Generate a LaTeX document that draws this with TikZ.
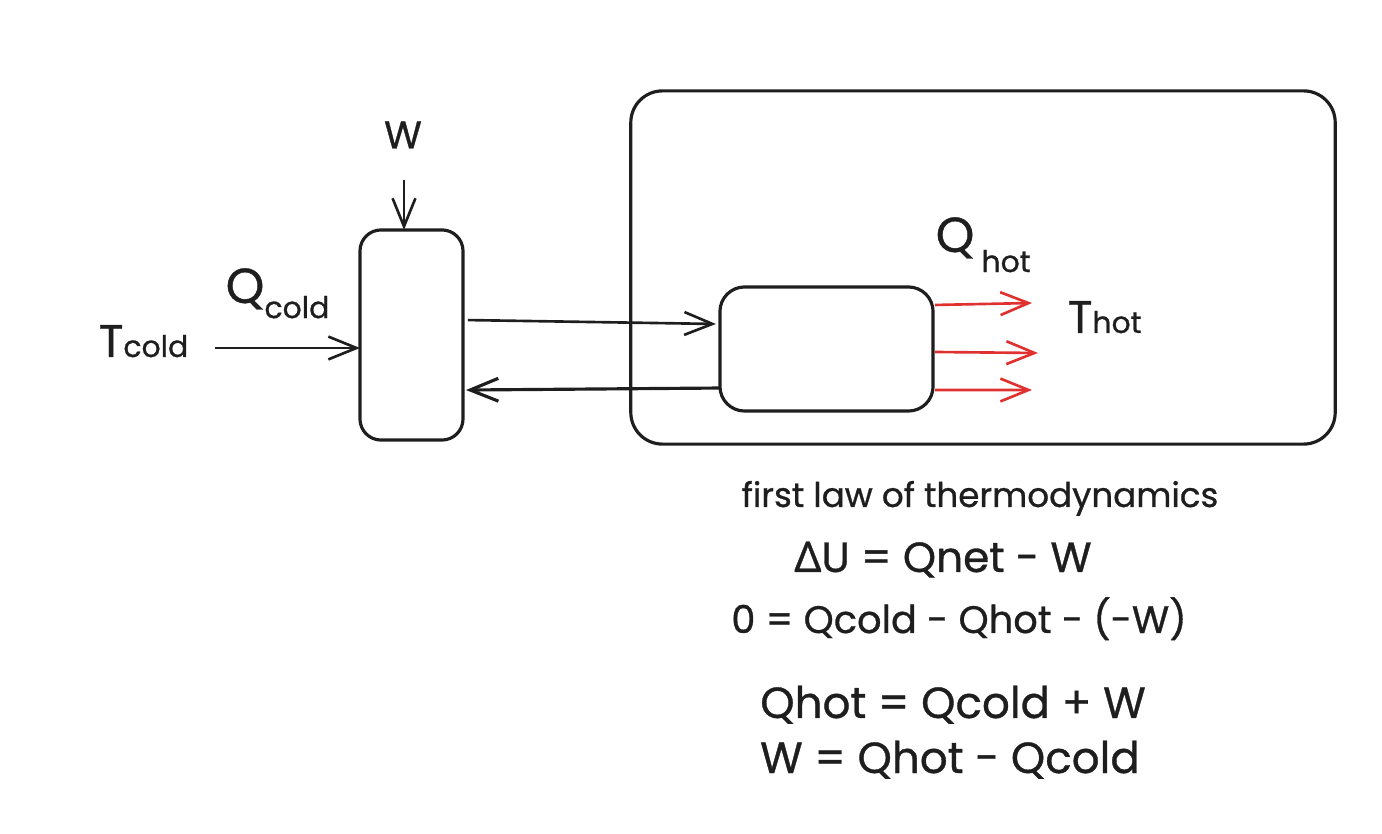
\documentclass[tikz,border=0pt]{standalone}
\usepackage{fontspec}
\setmainfont{Poppins}[FakeBold=0.8]
\newfontfamily\grkfont{Noto Sans}[FakeBold=0.8]
\usetikzlibrary{arrows.meta, positioning, calc}
\definecolor{inkblack}{RGB}{30, 30, 30}
\definecolor{heatred}{RGB}{224, 49, 49}

\begin{document}
\begin{tikzpicture}[x=0.01cm, y=-0.01cm,
  box/.style={draw=inkblack, line width=0.9pt, inner sep=0pt, outer sep=0pt},
  arr/.style={-{Straight Barb[length=8pt, width=6.5pt]}, line width=0.75pt, color=inkblack},
  hotarr/.style={arr, color=heatred},
  lbl/.style={inner sep=0pt, text=inkblack},
  eqn/.style={lbl, anchor=base, font=\fontsize{12}{14}\selectfont},
  bigeqn/.style={eqn, font=\fontsize{12.4}{15}\selectfont}
]
\useasboundingbox (0,0) rectangle (1382,834);

% boxes
\node[box, rounded corners=9pt, minimum width=7.04cm, minimum height=3.53cm] (sys) at (983,267.5) {};
\node[box, rounded corners=6pt, minimum width=1.03cm, minimum height=2.10cm] (pump) at (411.5,335) {};
\node[box, rounded corners=7pt, minimum width=2.13cm, minimum height=1.24cm] (cond) at (826.5,349) {};

% labels
\node[lbl, font=\fontsize{11}{13}\selectfont] (w) at (403,135) {W};
\node[lbl, anchor=base west, font=\fontsize{13}{15}\selectfont] (tcold) at (98,357)
      {T{\fontsize{8.5}{10}\selectfont cold}};
\node[lbl, anchor=base west, font=\fontsize{14}{16}\selectfont] (qcold) at (225,303)
      {Q\raisebox{-4.3pt}{\fontsize{8.5}{10}\selectfont cold}};
\node[lbl, anchor=base west, font=\fontsize{14}{16}\selectfont] (qhot) at (935,252)
      {Q\hspace{2pt}\raisebox{-5.7pt}{\fontsize{8.5}{10}\selectfont hot}};
\node[lbl, anchor=base west, font=\fontsize{13}{15}\selectfont] (thot) at (1067,333)
      {T{\fontsize{8.5}{10}\selectfont hot}};

% first law
\node[eqn, font=\fontsize{9.7}{12}\selectfont] (law) at (980,507) {first law of thermodynamics};
\node[eqn] (eq1) at (943,572) {{\grkfont Δ}U = Qnet - W};
\node[eqn, font=\fontsize{10.9}{13}\selectfont] (eq2) at (959,633) {0 = Qcold - Qhot - (-W)};
\node[bigeqn] (eq3) at (953,718) {Qhot = Qcold + W};
\node[bigeqn] (eq4) at (950,773) {W = Qhot - Qcold};

% free ends
\coordinate (win) at (404,180);
\coordinate (qin) at (215,348);
\coordinate (h1) at (1032,303);
\coordinate (h2) at (1038,353);
\coordinate (h3) at (1032,390);

% connectors
\draw[arr] (win) -- (pump.north -| win);
\draw[arr] (qin) -- (pump.west |- qin);
\draw[arr, shorten <=4pt/2.845] ([yshift=0.15cm]pump.east) -- ([xshift=-0.04cm, yshift=0.25cm]cond.west);
\draw[arr, line width=0.9pt] ([yshift=-0.39cm]cond.west) -- ([xshift=0.03cm, yshift=-0.55cm]pump.east);
\draw[hotarr] ([xshift=0.02cm, yshift=0.44cm]cond.east) -- (h1);
\draw[hotarr] ([xshift=0.02cm, yshift=-0.03cm]cond.east) -- (h2);
\draw[hotarr] ([xshift=0.02cm, yshift=-0.41cm]cond.east) -- (h3);
\end{tikzpicture}
\end{document}
